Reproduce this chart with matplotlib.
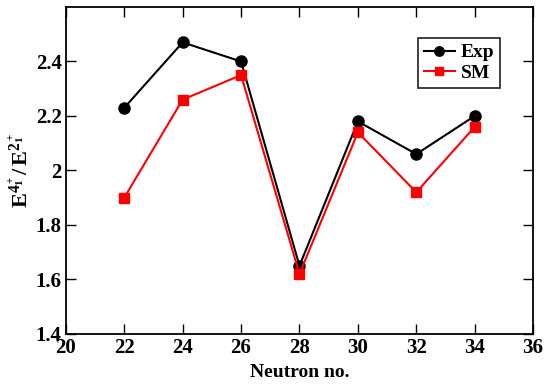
import matplotlib
matplotlib.use("Agg")
import matplotlib.pyplot as plt

neutrons = [22, 24, 26, 28, 30, 32, 34]
exp_vals = [2.23, 2.47, 2.40, 1.65, 2.18, 2.06, 2.20]
sm_vals = [1.90, 2.26, 2.35, 1.62, 2.14, 1.92, 2.16]
xticks = [20, 22, 24, 26, 28, 30, 32, 34, 36]
yticks = [1.4, 1.6, 1.8, 2.0, 2.2, 2.4]
ytick_labels = ["1.4", "1.6", "1.8", "2", "2.2", "2.4"]

plt.rcParams['font.family'] = ['Liberation Serif', 'DejaVu Serif']
plt.rcParams['font.weight'] = 'bold'
plt.rcParams['mathtext.fontset'] = 'custom'
plt.rcParams['mathtext.rm'] = 'Liberation Serif:bold'
plt.rcParams['mathtext.bf'] = 'Liberation Serif:bold'
plt.rcParams['mathtext.it'] = 'Liberation Serif:bold'

fig = plt.figure(figsize=(5.44, 3.87), dpi=100)
ax = fig.add_axes([0.121, 0.137, 0.859, 0.845])

ax.plot(neutrons, exp_vals, color='black', lw=1.5, marker='o', ms=8, label='Exp')
ax.plot(neutrons, sm_vals, color='red', lw=1.5, marker='s', ms=6.5, label='SM')

ax.set_xlim(20, 36)
ax.set_ylim(1.4, 2.6)
ax.set_xticks(xticks)
ax.set_yticks(yticks)
ax.set_yticklabels(ytick_labels)
ax.tick_params(direction='in', top=True, right=True, length=7, width=1, labelsize=15, pad=3)
for lab in ax.get_xticklabels() + ax.get_yticklabels():
    lab.set_fontweight('bold')
for s in ax.spines.values():
    s.set_linewidth(1.3)

ax.set_xlabel('Neutron no.', fontsize=14, fontweight='bold', labelpad=4)
ax.set_ylabel(r'$\mathbf{E^{4^+_1}/\,E^{2^+_1}}$', fontsize=16, labelpad=2)

leg = ax.legend(loc='upper right', bbox_to_anchor=(0.929, 0.905), borderaxespad=0,
                frameon=True, fancybox=False, edgecolor='black', handlelength=1.6,
                borderpad=0.3, labelspacing=0.15, handletextpad=0.3, markerscale=0.85,
                prop={'weight': 'bold', 'size': 14})
leg.get_frame().set_linewidth(1.3)

fig.savefig('out.png', dpi=100)
